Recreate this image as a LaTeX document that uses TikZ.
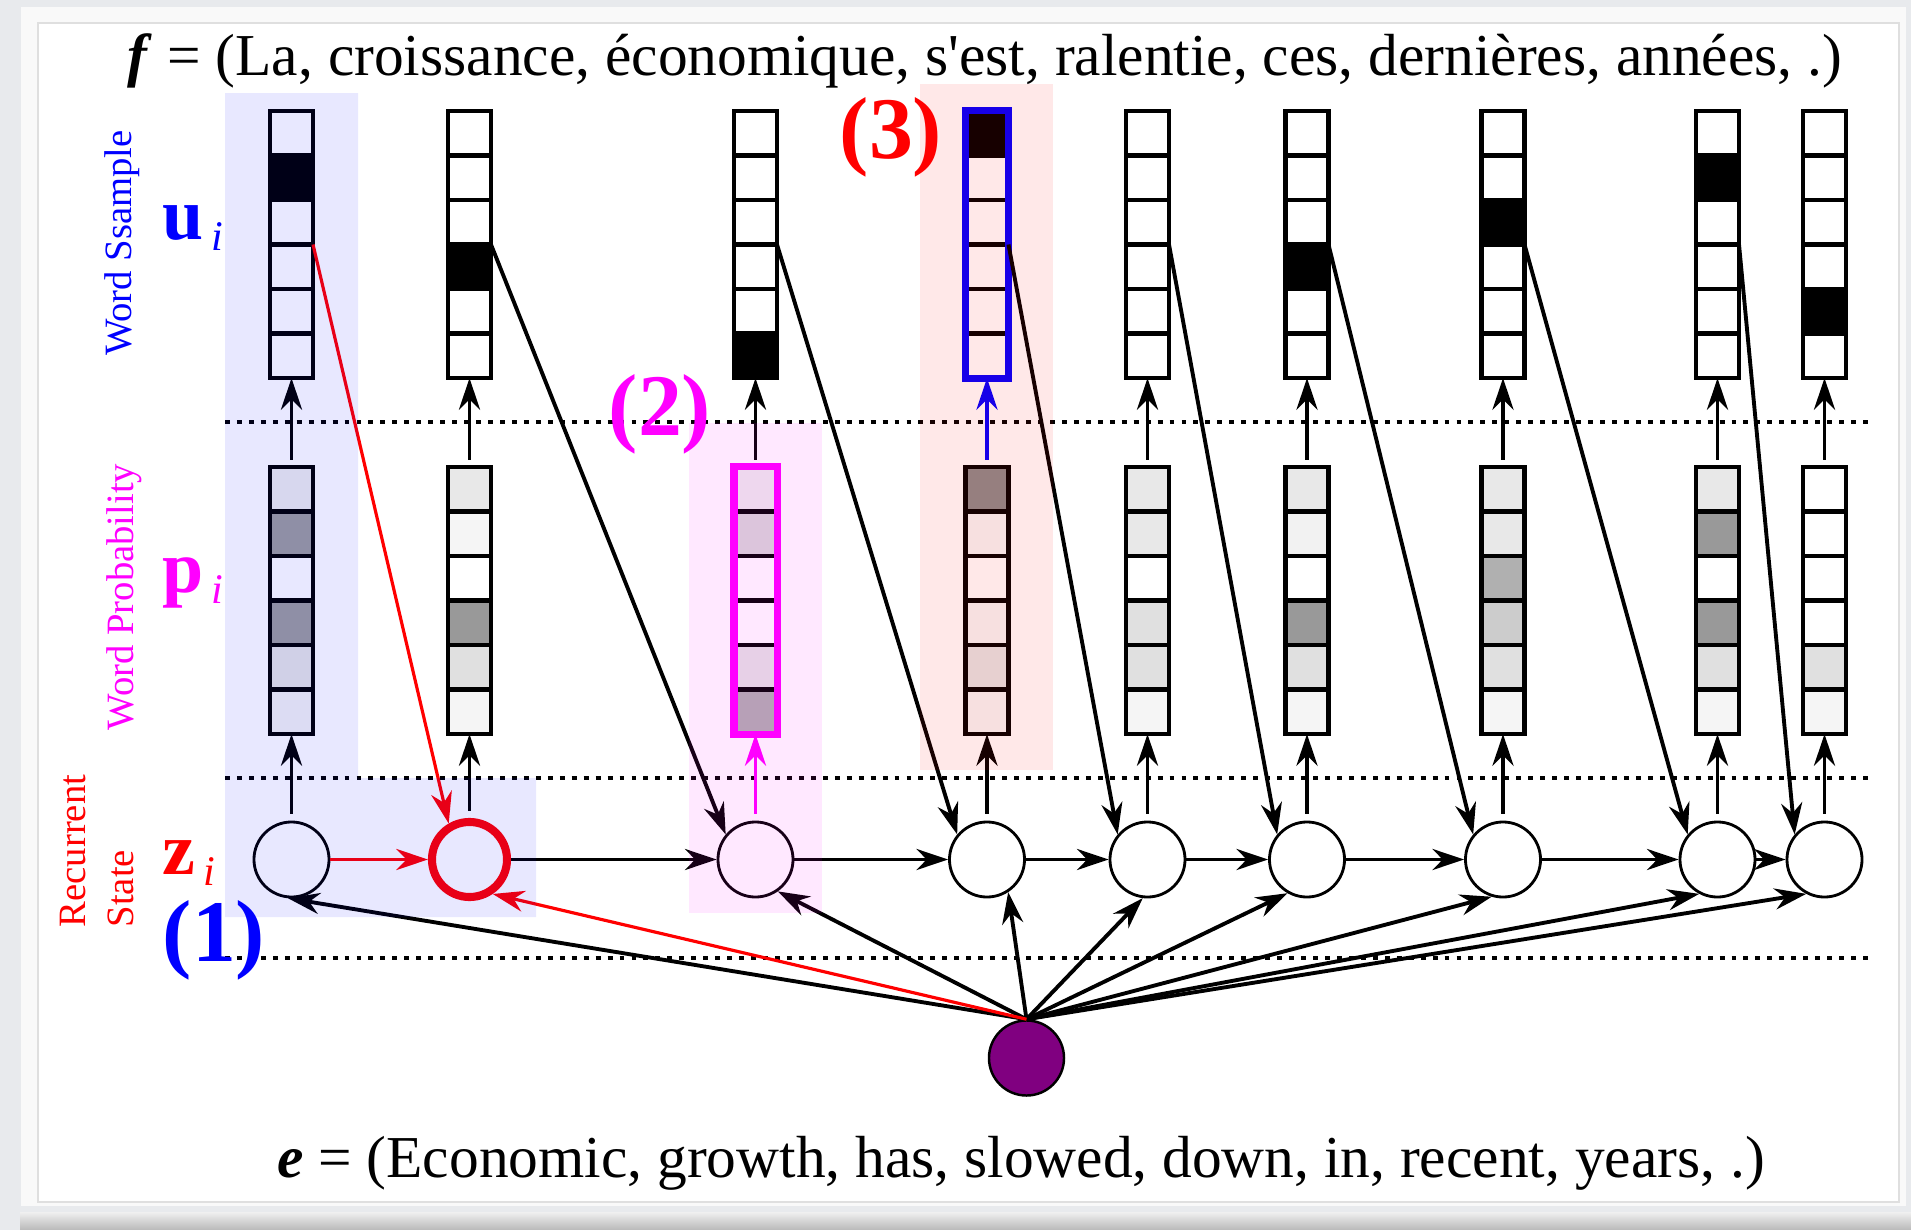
\documentclass[tikz,border=0pt]{standalone}
\usepackage{fontspec}
\setmainfont{Liberation Serif}
\usetikzlibrary{arrows.meta}
\definecolor{pagebg}{RGB}{232,234,237}
\definecolor{embedc}{RGB}{128,0,128}
\definecolor{probc}{RGB}{255,0,255}
\newcommand\straightq{{\addfontfeatures{Ligatures=TeXOff}'}}
\newcommand\veclabel[1]{{\fontsize{21}{21}\selectfont\bfseries #1}\hspace{0.08cm}\raisebox{-0.11cm}{\fontsize{12}{12}\selectfont\itshape i}}

\begin{document}
\begin{tikzpicture}[x=0.01cm, y=-0.01cm,
    vec/.style={draw, line width=1.2pt, minimum width=0.43cm, minimum height=2.67cm, inner sep=0pt, outer sep=0pt},
    samplevec/.style={vec, draw=blue, line width=2pt},
    pickvec/.style={vec, draw=probc, line width=2pt},
    cell/.style={draw, line width=1.2pt},
    state/.style={circle, draw, fill=white, line width=0.8pt, minimum size=0.75cm, inner sep=0pt},
    hotstate/.style={state, draw=red, line width=2.3pt},
    embed/.style={circle, draw, fill=embedc, line width=0.7pt, minimum size=0.75cm, inner sep=0pt},
    arr/.style={-{Stealth[length=9pt, width=6pt]}, line width=1.1pt},
    hotarr/.style={arr, red, line width=0.9pt},
    sep/.style={line width=1.2pt, dash pattern=on 1.4pt off 2pt},
    sidelabel/.style={rotate=90, font=\fontsize{11}{13.6}\selectfont, inner sep=0pt},
    tagno/.style={font=\fontsize{25}{25}\selectfont\bfseries, inner sep=0pt},
    sent/.style={anchor=base, font=\fontsize{16.9}{20}\selectfont, inner sep=0pt}
  ]
  % page and card
  \useasboundingbox (0,0) rectangle (1911,1230);
  \fill[pagebg] (0,0) rectangle (1911,1230);
  \fill[gray!5] (21,7) rectangle (1906,1206);
  \shade[top color=gray!12, bottom color=gray!55] (20,1212) rectangle (1911,1230);
  \draw[gray!25, fill=white] (38,23) rectangle (1899,1202);

  % layer separators
  \foreach \y in {422,778,958}
    \draw[sep] (225,\y) -- (1872,\y);

  % one column per target word: u cells, p cells, state
  \foreach \i/\x/\uc/\pa/\pb/\pc/\pd/\pe/\pf/\us/\ps/\zs in {
      1/291.5/2/7/38/0/38/10/5/vec/vec/state,
      2/469.5/4/9/4/0/40/12/4/vec/vec/hotstate,
      3/755.5/6/7/15/0/0/10/31/vec/pickvec/state,
      4/987/1/45/3/0/3/10/3/samplevec/vec/state,
      5/1147.5/0/9/9/0/12/12/4/vec/vec/state,
      6/1307/4/9/5/0/40/12/4/vec/vec/state,
      7/1503/3/9/9/31/20/12/4/vec/vec/state,
      8/1717.5/2/9/40/0/40/12/4/vec/vec/state,
      9/1824.5/5/0/0/0/0/12/4/vec/vec/state}{
    \foreach \k in {1,...,6}{
      \pgfmathtruncatemacro\ug{\k==\uc ? 100 : 0}
      \draw[cell, fill=black!\ug] (\x-21.5, 111+\k*44.5-44.5) rectangle ++(43,44.5);
    }
    \foreach \k/\g in {1/\pa,2/\pb,3/\pc,4/\pd,5/\pe,6/\pf}
      \draw[cell, fill=black!\g] (\x-21.5, 467+\k*44.5-44.5) rectangle ++(43,44.5);
    \node[\us] (u\i) at (\x,244.5) {};
    \node[\ps] (p\i) at (\x,600.5) {};
    \node[\zs] (z\i) at (\x,859.5) {};
  }
  \node[embed] (src) at (1026.5,1058) {};

  % recurrence
  \foreach \a/\b in {2/3,3/4,4/5,5/6,6/7,7/8,8/9}
    \draw[arr] (z\a) -- (z\b);
  \draw[hotarr] (z1) -- (z2);

  % state -> probability -> sample
  \foreach \i in {1,2,4,5,6,7,8,9}
    \draw[arr, shorten <=2pt] (z\i) -- (p\i);
  \foreach \i in {1,2,3,5,6,7,8,9}
    \draw[arr, shorten <=2pt] (p\i) -- (u\i);
  \draw[arr, probc, shorten <=2pt] (z3) -- (p3);
  \draw[arr, blue, shorten <=2pt] (p4) -- (u4);

  % sampled word feeds the next state
  \foreach \a/\b in {2/3,3/4,4/5,5/6,6/7,7/8,8/9}
    \draw[arr] (u\a.east) -- (z\b.140);
  \draw[hotarr] (u1.east) -- (z2.120);

  % source sentence to every state
  \foreach \b/\ang in {1/265,3/305,4/303,5/263,6/240,7/253,8/242,9/242}
    \draw[arr] (src.north) -- (z\b.\ang);
  \draw[hotarr] (src.north) -- (z2.304);

  % highlighted steps
  \fill[blue, fill opacity=0.09] (225,93) -- (358,93) -- (358,778) -- (536,778) -- (536,917) -- (225,917) -- cycle;
  \fill[probc, fill opacity=0.09] (689,423) rectangle (822,913);
  \fill[red, fill opacity=0.09] (920,84) rectangle (1053,770);

  % sentences
  \node[sent] (ftxt) at (985,75) {\textbf{\textit{f}} = (La, croissance, économique, s\straightq est, ralentie, ces, dernières, années, .)};
  \node[sent] (etxt) at (1021,1177) {\textbf{\textit{e}} = (Economic, growth, has, slowed, down, in, recent, years, .)};

  % row labels
  \node[sidelabel, text=blue] (lu) at (122,243) {Word Ssample};
  \node[sidelabel, text=probc] (lp) at (124.5,597) {Word Probability};
  \node[sidelabel, text=red, align=left, anchor=west] (lz) at (97,928) {Recurrent\\State};
  \node[anchor=base west, inner sep=0pt, text=blue] (su) at (162,239) {\veclabel{u}};
  \node[anchor=base west, inner sep=0pt, text=probc] (sp) at (162,592) {\veclabel{p}};
  \node[anchor=base west, inner sep=0pt, text=red] (sz) at (162,874) {\veclabel{z}};

  % step numbers
  \node[tagno, text=blue] (t1) at (214,940) {(1)};
  \node[tagno, text=probc] (t2) at (660,414) {(2)};
  \node[tagno, text=red] (t3) at (891,137.5) {(3)};
\end{tikzpicture}
\end{document}
